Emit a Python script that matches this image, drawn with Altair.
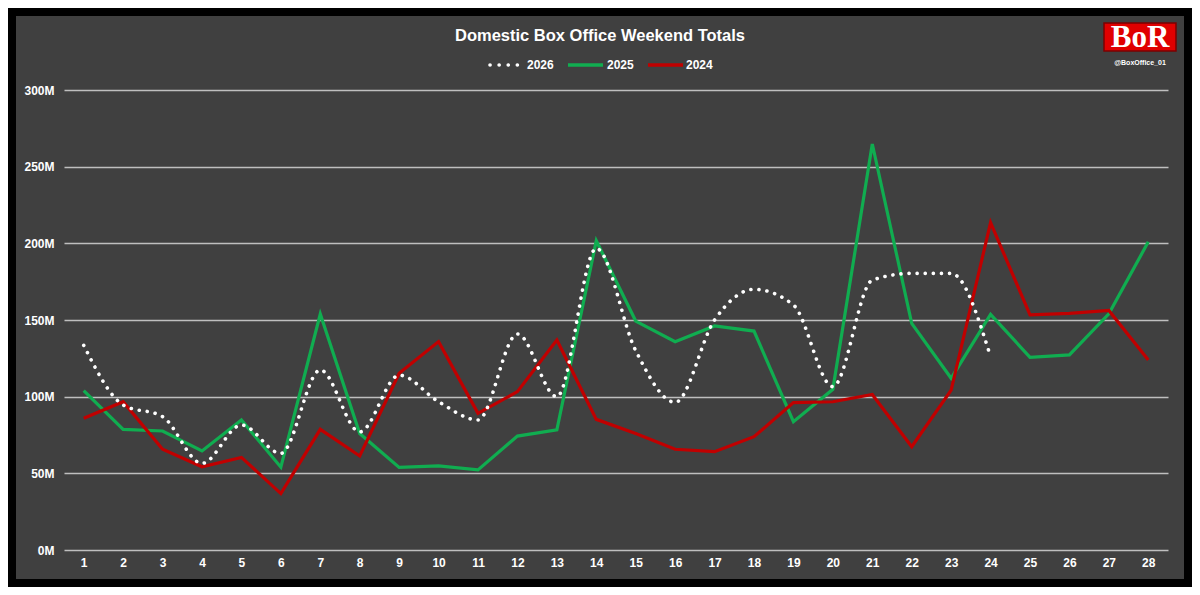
import altair as alt
import pandas as pd

weeks = list(range(1, 29))
series_names = ["2026", "2025", "2024"]

v2026 = [133.5, 94.6, 87.0, 56.5, 81.5, 63.0, 117.4, 77.0, 114.0, 96.7, 84.8, 140.9,
         100.0, 196.7, 130.0, 96.3, 150.0, 170.0, 159.8, 106.5, 176.0, 180.4, 180.4, 126.1]
v2025 = [103.9, 78.7, 77.6, 64.6, 84.8, 54.0, 153.9, 76.0, 53.9, 54.8, 52.2, 74.3,
         78.3, 201.7, 149.3, 135.9, 146.1, 142.8, 83.7, 104.8, 264.8, 147.8, 112.0, 153.7,
         125.7, 127.2, 154.0, 201.0]
v2024 = [85.9, 96.7, 65.7, 54.3, 60.4, 36.8, 78.7, 61.3, 115.2, 135.9, 89.1, 103.3,
         137.0, 85.2, 76.0, 65.7, 64.1, 73.9, 96.1, 96.7, 101.4, 67.4, 104.3, 213.5,
         153.3, 154.3, 156.2, 123.9]

y_ticks = [0, 50, 100, 150, 200, 250, 300]
title_text = "Domestic Box Office Weekend Totals"
logo_text = "BoR"
handle_text = "@BoxOffice_01"

GREEN = "#10ad50"
RED = "#c00000"
FONT = "Liberation Sans"

df26 = pd.DataFrame({"week": weeks[:len(v2026)], "value": v2026, "series": "2026"})
df_old = pd.concat([
    pd.DataFrame({"week": weeks, "value": v2025, "series": "2025"}),
    pd.DataFrame({"week": weeks, "value": v2024, "series": "2024"}),
])
one = pd.DataFrame({"a": [0]})

x_enc = alt.X("week:Q",
              scale=alt.Scale(domain=[0.5, 28.5], nice=False, zero=False),
              axis=alt.Axis(values=weeks, format="d", grid=False, domain=False, ticks=False,
                            labelPadding=7, labelColor="white", labelFont=FONT,
                            labelFontSize=12, labelFontWeight="bold", title=None))
y_enc = alt.Y("value:Q",
              scale=alt.Scale(domain=[0, 300], nice=False),
              axis=alt.Axis(values=y_ticks, labelExpr="datum.value + 'M'", grid=True,
                            gridColor="#bfbfbf", gridWidth=1.3, domain=False, ticks=False,
                            labelPadding=10, labelColor="white", labelFont=FONT,
                            labelFontSize=12, labelFontWeight="bold", title=None))

old_lines = alt.Chart(df_old).mark_line(strokeWidth=3.2).encode(
    x=x_enc, y=y_enc,
    color=alt.Color("series:N", scale=alt.Scale(domain=["2025", "2024"], range=[GREEN, RED]),
                    legend=None),
)
new_line = alt.Chart(df26).mark_line(
    interpolate="monotone", strokeDash=[0.1, 8], strokeCap="round",
    strokeWidth=3.6, color="white"
).encode(x="week:Q", y="value:Q")

base = alt.Chart(one)
frame = base.mark_rect(fillOpacity=0, stroke="black", strokeWidth=16).encode(
    x=alt.value(-56), x2=alt.value(1128), y=alt.value(-82), y2=alt.value(497))
title = base.mark_text(text=title_text, font=FONT, fontSize=16.5, fontWeight="bold",
                       color="white", align="center", baseline="middle").encode(
    x=alt.value(536), y=alt.value(-54))

leg_dot = base.mark_rule(strokeDash=[0.1, 9], strokeCap="round", strokeWidth=3.6,
                         color="white").encode(x=alt.value(426), x2=alt.value(454), y=alt.value(-25))
leg_g = base.mark_rule(strokeWidth=3.5, color=GREEN).encode(
    x=alt.value(504), x2=alt.value(539), y=alt.value(-25))
leg_r = base.mark_rule(strokeWidth=3.5, color=RED).encode(
    x=alt.value(584), x2=alt.value(619), y=alt.value(-25))
leg_texts = []
for name, xp in zip(series_names, [463, 543, 622]):
    leg_texts.append(base.mark_text(text=name, font=FONT, fontSize=12, fontWeight="bold",
                                    color="white", align="left", baseline="middle").encode(
        x=alt.value(xp), y=alt.value(-25)))

logo_box = base.mark_rect(fill="#e00000", stroke="#7a0000", strokeWidth=1.5).encode(
    x=alt.value(1040), x2=alt.value(1112), y=alt.value(-67), y2=alt.value(-39))
logo_txt = base.mark_text(text=logo_text, font="Liberation Serif", fontSize=31,
                          fontWeight="bold", color="white", align="center",
                          baseline="middle").encode(x=alt.value(1076), y=alt.value(-52))
handle = base.mark_text(text=handle_text, font=FONT, fontSize=7, fontWeight="bold",
                        color="white", align="center", baseline="middle").encode(
    x=alt.value(1076), y=alt.value(-27))

chart = alt.layer(
    old_lines, new_line, frame, title, leg_dot, leg_g, leg_r, *leg_texts,
    logo_box, logo_txt, handle
).properties(
    width=1104, height=460,
    autosize=alt.AutoSizeParams(type="none"),
    padding={"left": 56, "top": 82, "right": 24, "bottom": 37},
    background="#404040",
).configure_view(stroke=None)

chart.save("out.html", embed_options={"renderer": "svg", "actions": False})
